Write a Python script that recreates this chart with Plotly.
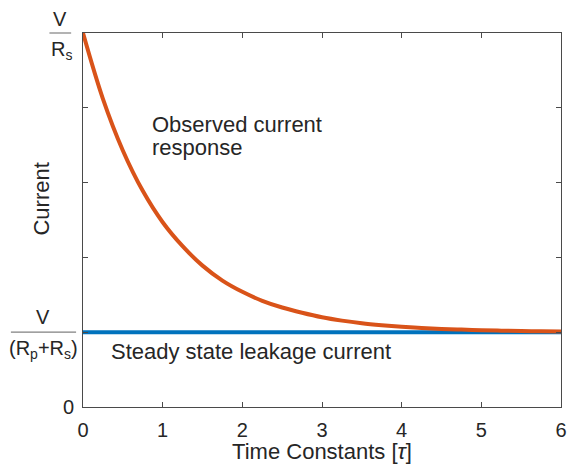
import plotly.graph_objects as go

# Observed current response (in units of the steady-state current)
t_obs = [0.0, 0.25, 0.5, 0.75, 1.0, 1.25, 1.5, 1.75, 2.0, 2.25, 2.5, 2.75, 3.0,
         3.25, 3.5, 3.75, 4.0, 4.25, 4.5, 4.75, 5.0, 5.25, 5.5, 5.75, 6.0]
i_obs = [5.00, 4.12, 3.43, 2.89, 2.47, 2.15, 1.89, 1.69, 1.54, 1.42, 1.33, 1.26, 1.20,
         1.155, 1.12, 1.094, 1.073, 1.057, 1.044, 1.035, 1.027, 1.021, 1.016, 1.013, 1.010]

# Steady state leakage current
t_leak = [0, 6]
i_leak = [1, 1]

x_ticks = [0, 1, 2, 3, 4, 5, 6]
y_ticks = [0, 1, 2, 3, 4, 5]
y_ticktext = ["0", "", "", "", "", ""]

TXT = "#262626"
AX = "#4a4a4a"
FONT = "Liberation Sans"

fig = go.Figure()
fig.add_trace(go.Scatter(x=t_leak, y=i_leak, mode="lines",
                         line=dict(color="#0072BD", width=4), hoverinfo="skip"))
fig.add_trace(go.Scatter(x=t_obs, y=i_obs, mode="lines",
                         line=dict(color="#D95319", width=4, shape="spline", smoothing=1),
                         hoverinfo="skip"))

axis_common = dict(showgrid=False, zeroline=False, showline=True, linecolor=AX,
                   linewidth=1, mirror="ticks", ticks="inside", ticklen=5,
                   tickcolor=AX, tickwidth=1, ticklabeloverflow="allow",
                   tickfont=dict(family=FONT, size=20, color=TXT))

fig.update_xaxes(range=[0, 6], tickvals=x_ticks, ticklabelstandoff=5,
                 title=dict(text="Time Constants [<i>τ</i>]", standoff=4,
                            font=dict(family=FONT, size=22, color=TXT)),
                 **axis_common)
fig.update_yaxes(range=[0, 5], tickvals=y_ticks, ticktext=y_ticktext,
                 ticklabelstandoff=4, **axis_common)

ann = []
# y-axis title
ann.append(dict(text="Current", xref="paper", yref="paper",
                x=(40 - 83) / 484, y=(407 - 199) / 374, textangle=-90,
                showarrow=False, xanchor="center", yanchor="middle",
                font=dict(family=FONT, size=22, color=TXT)))
# fraction tick labels
frac_font = dict(family=FONT, size=20, color=TXT)
ann.append(dict(text="V", xref="paper", yref="paper", x=(60 - 83) / 484, y=1.0,
                yshift=14, showarrow=False, xanchor="center", yanchor="middle",
                font=frac_font))
ann.append(dict(text="R<sub>s</sub>", xref="paper", yref="paper", x=(61 - 83) / 484, y=1.0,
                yshift=-17, showarrow=False, xanchor="center", yanchor="middle",
                font=frac_font))
ann.append(dict(text="V", xref="paper", yref="paper", x=(43 - 83) / 484, y=0.2,
                yshift=15, showarrow=False, xanchor="center", yanchor="middle",
                font=frac_font))
ann.append(dict(text="(R<sub>p</sub>+R<sub>s</sub>)", xref="paper", yref="paper",
                x=(43 - 83) / 484, y=0.2, yshift=-17, showarrow=False,
                xanchor="center", yanchor="middle", font=frac_font))
# curve labels
lab_font = dict(family=FONT, size=22, color=TXT)
ann.append(dict(text="Observed current", x=0.835, y=3.78, xref="x", yref="y",
                showarrow=False, xanchor="left", yanchor="middle", font=lab_font))
ann.append(dict(text="response", x=0.835, y=3.476, xref="x", yref="y",
                showarrow=False, xanchor="left", yanchor="middle", font=lab_font))
ann.append(dict(text="Steady state leakage current", x=0.325, y=0.742, xref="x", yref="y",
                showarrow=False, xanchor="left", yanchor="middle", font=lab_font))

shapes = [
    dict(type="line", xref="paper", yref="paper", x0=(49 - 83) / 484, x1=(71 - 83) / 484,
         y0=1.0, y1=1.0, line=dict(color="#808080", width=1.2)),
    dict(type="line", xref="paper", yref="paper", x0=(10 - 83) / 484, x1=(76 - 83) / 484,
         y0=0.2, y1=0.2, line=dict(color="#808080", width=1.2)),
]

fig.update_layout(width=570, height=464, autosize=False,
                  margin=dict(l=83, r=3, t=33, b=57),
                  plot_bgcolor="white", paper_bgcolor="white",
                  showlegend=False, annotations=ann, shapes=shapes,
                  font=dict(family=FONT, color=TXT))

fig.write_html("out.html")
